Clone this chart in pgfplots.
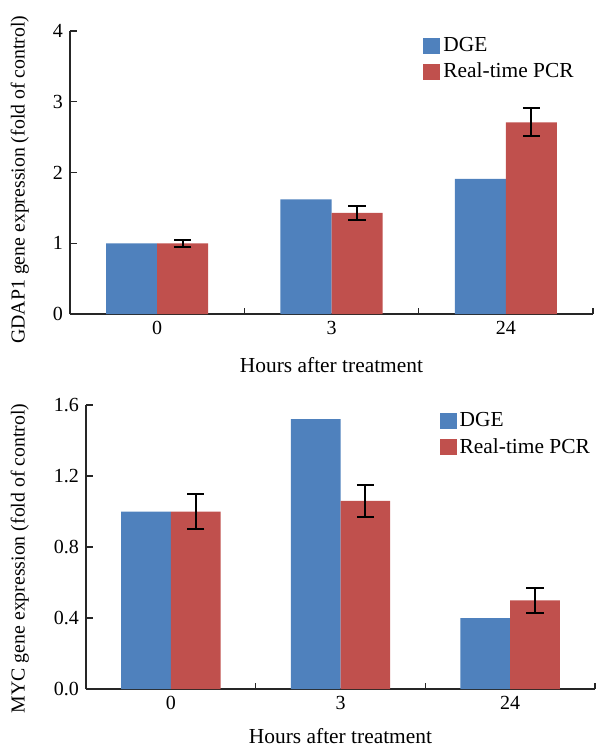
\documentclass[border=0pt]{standalone}
\usepackage{pgfplots}
\pgfplotsset{compat=1.18}
\usepackage{fontspec}
\setmainfont{Liberation Serif}
\definecolor{dgeblue}{HTML}{4F81BD}
\definecolor{pcrred}{HTML}{C0504D}

\pgfplotsset{
  geneaxis/.style={
    scale only axis,
    anchor=south west,
    axis lines*=left,
    axis line style={black!85, line width=0.6pt},
    ybar=0pt, bar width=0.293,
    xmin=-0.5, xmax=2.5, ymin=0,
    xtick={0,1,2}, xticklabels={0,3,24},
    major x tick style={draw=none},
    minor xtick={-0.5,0.5,1.5,2.5},
    minor x tick style={black!85, line width=0.6pt},
    minor tick length=3pt,
    major tick length=3.5pt,
    tick align=inside,
    y tick style={black!85, line width=0.6pt},
    font=\fontsize{10.7}{13.5}\selectfont,
    tick label style={font=\fontsize{10}{12}\selectfont},
    /pgf/number format/assume math mode=true,
    xlabel={Hours after treatment},
    legend cell align=left,
    legend style={draw=none, fill=none, anchor=north west, inner sep=0pt,
      row sep=1.2pt, nodes={inner sep=1.5pt}},
  },
  sq/.style={legend image code/.code={\fill[##1] (0pt,-3.9pt) rectangle (8.5pt,3.9pt);}},
}

\pgfplotstableread{
x dge pcr err
0 1.00 1.00 0.05
1 1.62 1.43 0.10
2 1.91 2.71 0.20
}\gdapdata

\pgfplotstableread{
x dge pcr err
0 1.00 1.00 0.10
1 1.52 1.06 0.09
2 0.40 0.50 0.07
}\mycdata

\begin{document}
\begin{tikzpicture}
\path[use as bounding box] (0,0) rectangle (299pt,-374.5pt);

\begin{axis}[geneaxis,
  at={(35pt,-157pt)}, width=261.5pt, height=141.5pt,
  ymax=4, ytick={0,1,2,3,4},
  ylabel={GDAP1 gene expression (fold of control)},
  every axis y label/.style={at={(axis description cs:-0.096,0.475)}, rotate=90, anchor=center,
    font=\fontsize{9.9}{12}\selectfont},
  every axis x label/.style={at={(axis description cs:0.5,-0.18)}, anchor=center},
  legend style={at={(axis description cs:0.675,0.99)}},
]
\addplot[fill=dgeblue, draw=none, sq] table[x=x, y=dge] {\gdapdata};
\addplot[fill=pcrred, draw=none, sq,
  error bars/.cd, y dir=both, y explicit,
  error bar style={black, line width=1pt},
  error mark options={black, line width=1pt, mark size=4.3pt, rotate=90}]
  table[x=x, y=pcr, y error=err] {\gdapdata};
\legend{DGE, Real-time PCR}
\end{axis}

\begin{axis}[geneaxis,
  at={(43pt,-344.5pt)}, width=254.5pt, height=142pt,
  ymax=1.6, ytick={0,0.4,0.8,1.2,1.6},
  yticklabel style={/pgf/number format/.cd, fixed, fixed zerofill, precision=1},
  ylabel={MYC gene expression (fold of control)},
  every axis y label/.style={at={(axis description cs:-0.13,0.46)}, rotate=90, anchor=center,
    font=\fontsize{9.9}{12}\selectfont},
  every axis x label/.style={at={(axis description cs:0.5,-0.165)}, anchor=center},
  legend style={at={(axis description cs:0.694,0.985)}},
]
\addplot[fill=dgeblue, draw=none, sq] table[x=x, y=dge] {\mycdata};
\addplot[fill=pcrred, draw=none, sq,
  error bars/.cd, y dir=both, y explicit,
  error bar style={black, line width=1pt},
  error mark options={black, line width=1pt, mark size=4.3pt, rotate=90}]
  table[x=x, y=pcr, y error=err] {\mycdata};
\legend{DGE, Real-time PCR}
\end{axis}
\end{tikzpicture}
\end{document}
